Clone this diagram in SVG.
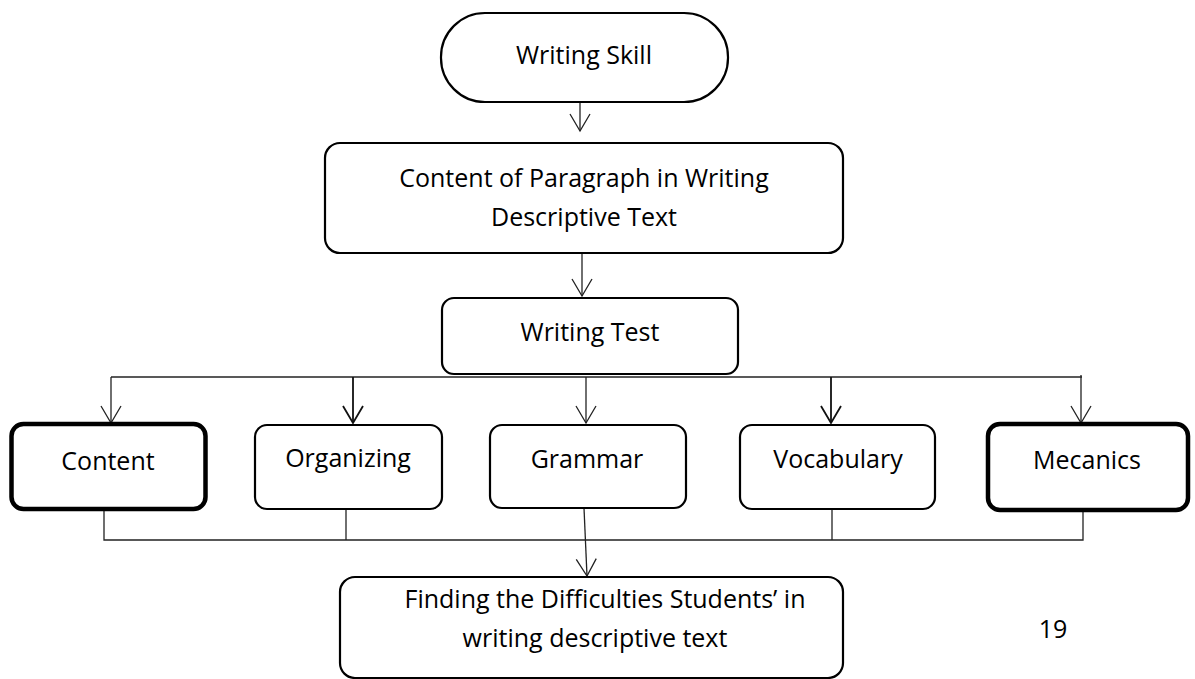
<svg xmlns="http://www.w3.org/2000/svg" width="1195" height="679" viewBox="0 0 1195 679">
<defs>
<style>
.box{fill:#fff;stroke:#000;stroke-width:2.2}
.thick{fill:#fff;stroke:#000;stroke-width:4.5}
.lbl{font-family:"Open Sans","Liberation Sans",sans-serif;font-size:25px;fill:#000;text-anchor:middle}
.con{fill:none;stroke:#222;stroke-width:1.3}
.conb{fill:none;stroke:#111;stroke-width:1.8}
</style>
<marker id="v" markerUnits="userSpaceOnUse" orient="auto" refX="0" refY="0" markerWidth="20" markerHeight="24" overflow="visible">
<path d="M-17,-10 L0,0 L-17,10" fill="none" stroke="#222" stroke-width="1.3"/>
</marker>
<marker id="vb" markerUnits="userSpaceOnUse" orient="auto" refX="0" refY="0" markerWidth="20" markerHeight="24" overflow="visible">
<path d="M-17,-10 L0,0 L-17,10" fill="none" stroke="#111" stroke-width="1.8"/>
</marker>
</defs>
<rect width="1195" height="679" fill="#fff"/>
<g id="connectors">
<line class="con" x1="580" y1="83" x2="580" y2="131" marker-end="url(#v)"/>
<line class="con" x1="582" y1="242" x2="582" y2="296" marker-end="url(#v)"/>
<polyline class="con" points="111,377 1082,377"/>
<line class="con" x1="111" y1="377" x2="111" y2="423" marker-end="url(#v)"/>
<line class="conb" x1="353" y1="377" x2="353" y2="423" marker-end="url(#vb)"/>
<line class="con" x1="586" y1="377" x2="586" y2="423" marker-end="url(#v)"/>
<line class="conb" x1="831" y1="377" x2="831" y2="423" marker-end="url(#vb)"/>
<line class="con" x1="1081" y1="375" x2="1081" y2="423" marker-end="url(#v)"/>
<polyline class="con" points="104,511 104,540 1083,540 1083,511"/>
<line class="con" x1="346" y1="506" x2="346" y2="540"/>
<line class="con" x1="832" y1="505" x2="832" y2="540"/>
<line class="con" x1="584" y1="508" x2="587" y2="576" marker-end="url(#v)"/>
</g>
<g id="writing-skill">
<rect class="box" x="441" y="13" width="287" height="89" rx="44" ry="44"/>
<text class="lbl" x="584" y="64">Writing Skill</text>
</g>
<g id="content-paragraph">
<rect class="box" x="325" y="143" width="518" height="110" rx="15" ry="15"/>
<text class="lbl" x="584" y="187">Content of Paragraph in Writing</text>
<text class="lbl" x="584" y="226">Descriptive Text</text>
</g>
<g id="writing-test">
<rect class="box" x="442" y="298" width="296" height="76" rx="12" ry="12"/>
<text class="lbl" x="590" y="341">Writing Test</text>
</g>
<g id="content">
<rect class="thick" x="11.5" y="424" width="194" height="85" rx="12" ry="12"/>
<text class="lbl" x="108" y="470">Content</text>
</g>
<g id="organizing">
<rect class="box" x="255" y="425" width="187" height="84" rx="12" ry="12"/>
<text class="lbl" x="348" y="467">Organizing</text>
</g>
<g id="grammar">
<rect class="box" x="490" y="425" width="196" height="83" rx="12" ry="12"/>
<text class="lbl" x="587" y="468">Grammar</text>
</g>
<g id="vocabulary">
<rect class="box" x="740" y="425" width="195" height="84" rx="12" ry="12"/>
<text class="lbl" x="838" y="468">Vocabulary</text>
</g>
<g id="mecanics">
<rect class="thick" x="988" y="424" width="200" height="86" rx="12" ry="12"/>
<text class="lbl" x="1087" y="469">Mecanics</text>
</g>
<g id="finding">
<rect class="box" x="340" y="577" width="503" height="101" rx="15" ry="15"/>
<text class="lbl" x="605" y="608">Finding the Difficulties Students’ in</text>
<text class="lbl" x="595" y="647">writing descriptive text</text>
</g>
<text class="lbl" x="1053" y="638">19</text>
</svg>
